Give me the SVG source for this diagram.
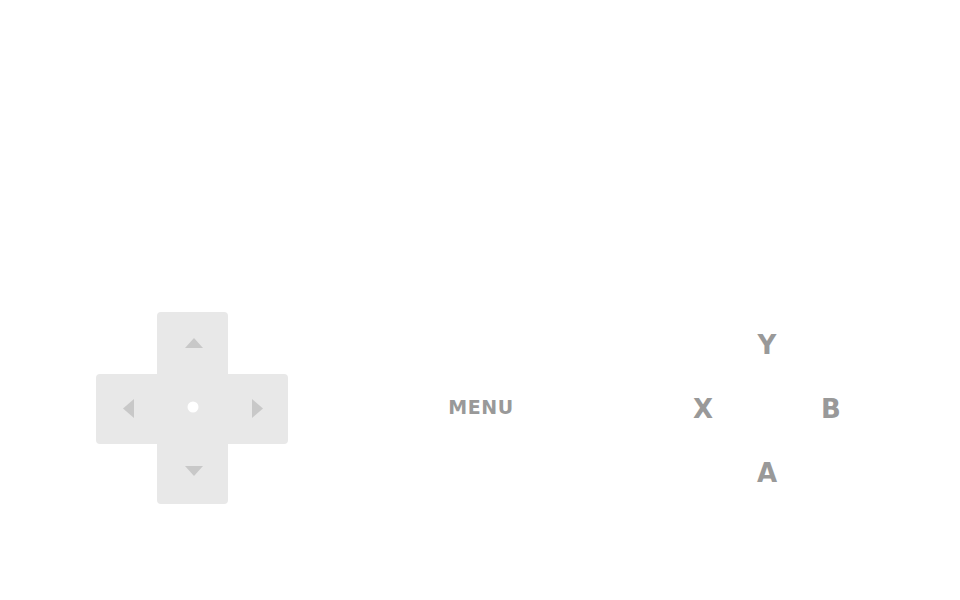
<svg xmlns="http://www.w3.org/2000/svg" width="960" height="600" viewBox="0 0 960 600">
<style>
.pad{fill:#e8e8e8}
.arr{fill:#c8c8c8}
.btn{font-family:"DejaVu Sans",sans-serif;font-weight:bold;font-size:26px;fill:#999999;text-anchor:middle}
.menu{font-family:"DejaVu Sans",sans-serif;font-weight:bold;font-size:19px;fill:#999999;text-anchor:middle;letter-spacing:0.6px}
</style>
<rect width="960" height="600" fill="#ffffff"/>
<g id="dpad">
<rect class="pad" x="157" y="312" width="71" height="192" rx="4"/>
<rect class="pad" x="96" y="374" width="192" height="70" rx="4"/>
<circle cx="193" cy="407" r="5.5" fill="#ffffff"/>
<polygon class="arr" points="185,348 203,348 194,338"/>
<polygon class="arr" points="185,466 203,466 194,476"/>
<polygon class="arr" points="134,399 134,418 123,408.5"/>
<polygon class="arr" points="252,399 252,418 263,408.5"/>
</g>
<g id="menu">
<text class="menu" x="481" y="414">MENU</text>
</g>
<g id="btn-y"><text class="btn" x="767" y="354">Y</text></g>
<g id="btn-x"><text class="btn" x="703" y="418">X</text></g>
<g id="btn-b"><text class="btn" x="831" y="418">B</text></g>
<g id="btn-a"><text class="btn" x="767" y="482">A</text></g>
<g id="connectors"></g>
</svg>
